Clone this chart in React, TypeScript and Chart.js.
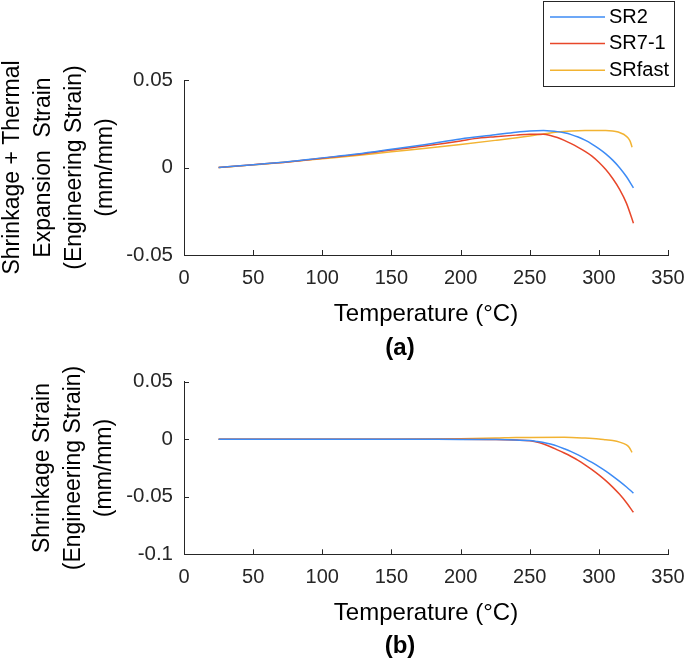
import React, { useEffect, useRef } from "react";
import { Chart, registerables } from "chart.js";

Chart.register(...registerables);

const FONT = "'Liberation Sans', Arial, Helvetica, sans-serif";
const AXIS_COLOR = "#262626";

// ---- legend / series ----
const seriesNames = ["SR2", "SR7-1", "SRfast"];
const seriesColors = ["#3D8BF5", "#E8472A", "#F2B332"];

// ---- tick values ----
const xTicks = [0, 50, 100, 150, 200, 250, 300, 350];
const yTicksA = [-0.05, 0, 0.05];
const yTicksB = [-0.1, -0.05, 0, 0.05];

// ---- (a) shrinkage + thermal expansion strain ----
const tempA_SR2 = [25, 50, 75, 100, 125, 150, 175, 200, 225, 240, 250, 260, 265, 270, 275, 280, 285, 290, 295, 300, 305, 310, 315, 320, 325];
const strainA_SR2 = [0, 0.0016, 0.0033, 0.0055, 0.0077, 0.0104, 0.0132, 0.0163, 0.0187, 0.0202, 0.0209, 0.0211, 0.0209, 0.0205, 0.0198, 0.0188, 0.0174, 0.0156, 0.0134, 0.0108, 0.0078, 0.0042, -0.0001, -0.0053, -0.0116];

const tempA_SR71 = [25, 50, 75, 100, 125, 150, 175, 200, 210, 225, 240, 250, 260, 265, 270, 275, 280, 285, 290, 295, 300, 305, 310, 315, 320, 325];
const strainA_SR71 = [0, 0.0016, 0.0032, 0.0053, 0.0074, 0.01, 0.0124, 0.0152, 0.0165, 0.0176, 0.0185, 0.019, 0.019, 0.0183, 0.0171, 0.0155, 0.0136, 0.0115, 0.0092, 0.0065, 0.003, -0.0012, -0.0063, -0.0125, -0.0205, -0.0318];

const tempA_SRf = [25, 50, 75, 100, 125, 150, 175, 200, 225, 250, 260, 270, 280, 290, 300, 305, 310, 314, 317, 319, 321, 322.5, 323.5, 324];
const strainA_SRf = [0, 0.0015, 0.0031, 0.005, 0.0069, 0.009, 0.011, 0.0132, 0.0155, 0.018, 0.0192, 0.0203, 0.0209, 0.0211, 0.0211, 0.0211, 0.0209, 0.0203, 0.0193, 0.0184, 0.017, 0.0152, 0.013, 0.0116];

// ---- (b) shrinkage strain ----
const tempB_SR2 = [25, 50, 100, 150, 200, 225, 240, 250, 255, 260, 265, 270, 275, 280, 285, 290, 295, 300, 305, 310, 315, 320, 325];
const strainB_SR2 = [0, 0, 0, 0, -0.0002, -0.0003, -0.0006, -0.0012, -0.0019, -0.0028, -0.0042, -0.006, -0.0083, -0.0108, -0.0136, -0.0168, -0.0202, -0.0238, -0.0277, -0.032, -0.0366, -0.0415, -0.0468];

const tempB_SR71 = [25, 50, 100, 150, 200, 225, 240, 250, 255, 260, 265, 270, 275, 280, 285, 290, 295, 300, 305, 310, 315, 320, 325];
const strainB_SR71 = [0, 0, 0, 0, 0, -0.0002, -0.0007, -0.0013, -0.0024, -0.0042, -0.0065, -0.0092, -0.012, -0.015, -0.0183, -0.0222, -0.0264, -0.031, -0.036, -0.0416, -0.0479, -0.0552, -0.0635];

const tempB_SRf = [25, 50, 100, 150, 200, 225, 240, 250, 275, 290, 300, 305, 310, 315, 320, 322, 324];
const strainB_SRf = [0, 0, 0, 0, 0.0005, 0.001, 0.0015, 0.0016, 0.0017, 0.001, 0.0002, -0.0005, -0.0012, -0.0025, -0.005, -0.0072, -0.0115];

const toPoints = (xs: number[], ys: number[]) => xs.map((x, i) => ({ x, y: ys[i] }));

const makeDatasets = (pairs: [number[], number[]][]) =>
  pairs.map(([xs, ys], i) => ({
    label: seriesNames[i],
    data: toPoints(xs, ys),
    borderColor: seriesColors[i],
    backgroundColor: seriesColors[i],
    borderWidth: 1.5,
    pointRadius: 0,
    fill: false,
    cubicInterpolationMode: "monotone" as const,
  }));

// ---- plugins ----
const innerTicks = {
  id: "innerTicks",
  afterDraw(chart: any) {
    const { ctx, chartArea: a, scales } = chart;
    ctx.save();
    ctx.strokeStyle = AXIS_COLOR;
    ctx.lineWidth = 1;
    ctx.beginPath();
    scales.x.ticks.forEach((t: any) => {
      const px = Math.round(scales.x.getPixelForValue(t.value)) + 0.5;
      ctx.moveTo(px, a.bottom);
      ctx.lineTo(px, a.bottom - 5);
    });
    scales.y.ticks.forEach((t: any) => {
      const py = Math.round(scales.y.getPixelForValue(t.value)) + 0.5;
      ctx.moveTo(a.left, py);
      ctx.lineTo(a.left + 5, py);
    });
    ctx.stroke();
    ctx.restore();
  },
};

const boxLegend = {
  id: "boxLegend",
  afterDraw(chart: any, _args: any, opts: any) {
    if (!opts || !opts.show) return;
    const ctx = chart.ctx;
    ctx.save();
    ctx.strokeStyle = AXIS_COLOR;
    ctx.lineWidth = 1;
    ctx.fillStyle = "#ffffff";
    ctx.fillRect(opts.left, opts.top, opts.right - opts.left, opts.bottom - opts.top);
    ctx.strokeRect(opts.left + 0.5, opts.top + 0.5, opts.right - opts.left, opts.bottom - opts.top);
    ctx.font = `${opts.fontSize}px ${FONT}`;
    ctx.textBaseline = "middle";
    ctx.textAlign = "left";
    chart.data.datasets.forEach((ds: any, i: number) => {
      const y = opts.rowStart + i * opts.rowStep;
      ctx.strokeStyle = ds.borderColor;
      ctx.lineWidth = ds.borderWidth;
      ctx.beginPath();
      ctx.moveTo(opts.lineX0, y);
      ctx.lineTo(opts.lineX1, y);
      ctx.stroke();
      ctx.fillStyle = "#000000";
      ctx.fillText(ds.label, opts.textX, y);
    });
    ctx.restore();
  },
};

const caption = {
  id: "caption",
  afterDraw(chart: any, _args: any, opts: any) {
    if (!opts || !opts.text) return;
    const ctx = chart.ctx;
    ctx.save();
    ctx.font = `bold ${opts.fontSize}px ${FONT}`;
    ctx.fillStyle = "#000000";
    ctx.textAlign = "center";
    ctx.textBaseline = "middle";
    ctx.fillText(opts.text, opts.x, opts.y);
    ctx.restore();
  },
};

type Cfg = {
  datasets: any[];
  yMin: number;
  yMax: number;
  yTicks: number[];
  yTitle: string[];
  yTitlePadTop: number;
  padTop: number;
  padBottom: number;
  xScaleHeight: number;
  xTitlePadBottom: number;
  letter: string;
  letterY: number;
  legend: boolean;
};

const fmt = (v: number | string) => String(+Number(v).toFixed(2));

function buildConfig(c: Cfg): any {
  return {
    type: "line",
    data: { datasets: c.datasets },
    plugins: [innerTicks, boxLegend, caption],
    options: {
      animation: false,
      responsive: false,
      maintainAspectRatio: false,
      devicePixelRatio: 1,
      layout: { padding: { top: c.padTop, right: 17, left: 0, bottom: c.padBottom } },
      scales: {
        x: {
          type: "linear",
          min: 0,
          max: 350,
          afterBuildTicks: (s: any) => {
            s.ticks = xTicks.map((v) => ({ value: v }));
          },
          afterFit: (s: any) => {
            s.height = c.xScaleHeight;
            s.paddingLeft = 0;
            s.paddingRight = 0;
          },
          grid: { display: false, drawTicks: false },
          border: { display: true, color: AXIS_COLOR, width: 1 },
          ticks: {
            padding: 11,
            color: AXIS_COLOR,
            font: { family: FONT, size: 20 },
            maxRotation: 0,
            autoSkip: false,
            callback: (v: any) => fmt(v),
          },
          title: {
            display: true,
            text: "Temperature (°C)",
            color: "#000000",
            font: { family: FONT, size: 24, lineHeight: 1.2 },
            padding: { top: 0, bottom: c.xTitlePadBottom },
          },
        },
        y: {
          type: "linear",
          min: c.yMin,
          max: c.yMax,
          afterBuildTicks: (s: any) => {
            s.ticks = c.yTicks.map((v) => ({ value: v }));
          },
          afterFit: (s: any) => {
            s.width = 184;
            s.paddingTop = 0;
            s.paddingBottom = 0;
          },
          grid: { display: false, drawTicks: false },
          border: { display: true, color: AXIS_COLOR, width: 1 },
          ticks: {
            padding: 11,
            color: AXIS_COLOR,
            font: { family: FONT, size: 20.5 },
            autoSkip: false,
            callback: (v: any) => fmt(v),
          },
          title: {
            display: true,
            text: c.yTitle,
            color: "#000000",
            font: { family: FONT, size: 23, lineHeight: 31 / 23 },
            padding: { top: c.yTitlePadTop, bottom: 0 },
          },
        },
      },
      plugins: {
        legend: { display: false },
        tooltip: { enabled: false },
        title: { display: false },
        caption: { text: c.letter, x: 400, y: c.letterY, fontSize: 24 },
        boxLegend: {
          show: c.legend,
          left: 543,
          right: 674,
          top: 1,
          bottom: 86,
          lineX0: 550,
          lineX1: 605,
          textX: 609,
          rowStart: 17,
          rowStep: 26.6,
          fontSize: 20,
        },
      },
    },
  };
}

function ChartCanvas({ cfg, top, height }: { cfg: Cfg; top: number; height: number }) {
  const ref = useRef<HTMLCanvasElement | null>(null);
  useEffect(() => {
    if (!ref.current) return;
    const chart = new Chart(ref.current, buildConfig(cfg));
    return () => chart.destroy();
  }, []);
  return (
    <canvas
      ref={ref}
      width={685}
      height={height}
      style={{ position: "absolute", left: 0, top, width: 685, height }}
    />
  );
}

const cfgA: Cfg = {
  datasets: makeDatasets([
    [tempA_SR2, strainA_SR2],
    [tempA_SR71, strainA_SR71],
    [tempA_SRf, strainA_SRf],
  ]),
  yMin: -0.05,
  yMax: 0.05,
  yTicks: yTicksA,
  yTitle: ["Shrinkage + Thermal", "Expansion  Strain", "(Engineering Strain)", "(mm/mm)"],
  yTitlePadTop: -3,
  padTop: 80,
  padBottom: 29.4,
  xScaleHeight: 80.6,
  xTitlePadBottom: 6.6,
  letter: "(a)",
  letterY: 348,
  legend: true,
};

const cfgB: Cfg = {
  datasets: makeDatasets([
    [tempB_SR2, strainB_SR2],
    [tempB_SR71, strainB_SR71],
    [tempB_SRf, strainB_SRf],
  ]),
  yMin: -0.1,
  yMax: 0.05,
  yTicks: yTicksB,
  yTitle: ["Shrinkage Strain", "(Engineering Strain)", "(mm/mm)"],
  yTitlePadTop: 27.5,
  padTop: 16.7,
  padBottom: 26.4,
  xScaleHeight: 77.3,
  xTitlePadBottom: 3.6,
  letter: "(b)",
  letterY: 281,
  legend: false,
};

export default function App() {
  return (
    <div style={{ position: "absolute", left: 0, top: 0, width: 685, height: 658, background: "#ffffff", overflow: "hidden" }}>
      <ChartCanvas cfg={cfgA} top={0} height={365} />
      <ChartCanvas cfg={cfgB} top={365} height={293} />
    </div>
  );
}
